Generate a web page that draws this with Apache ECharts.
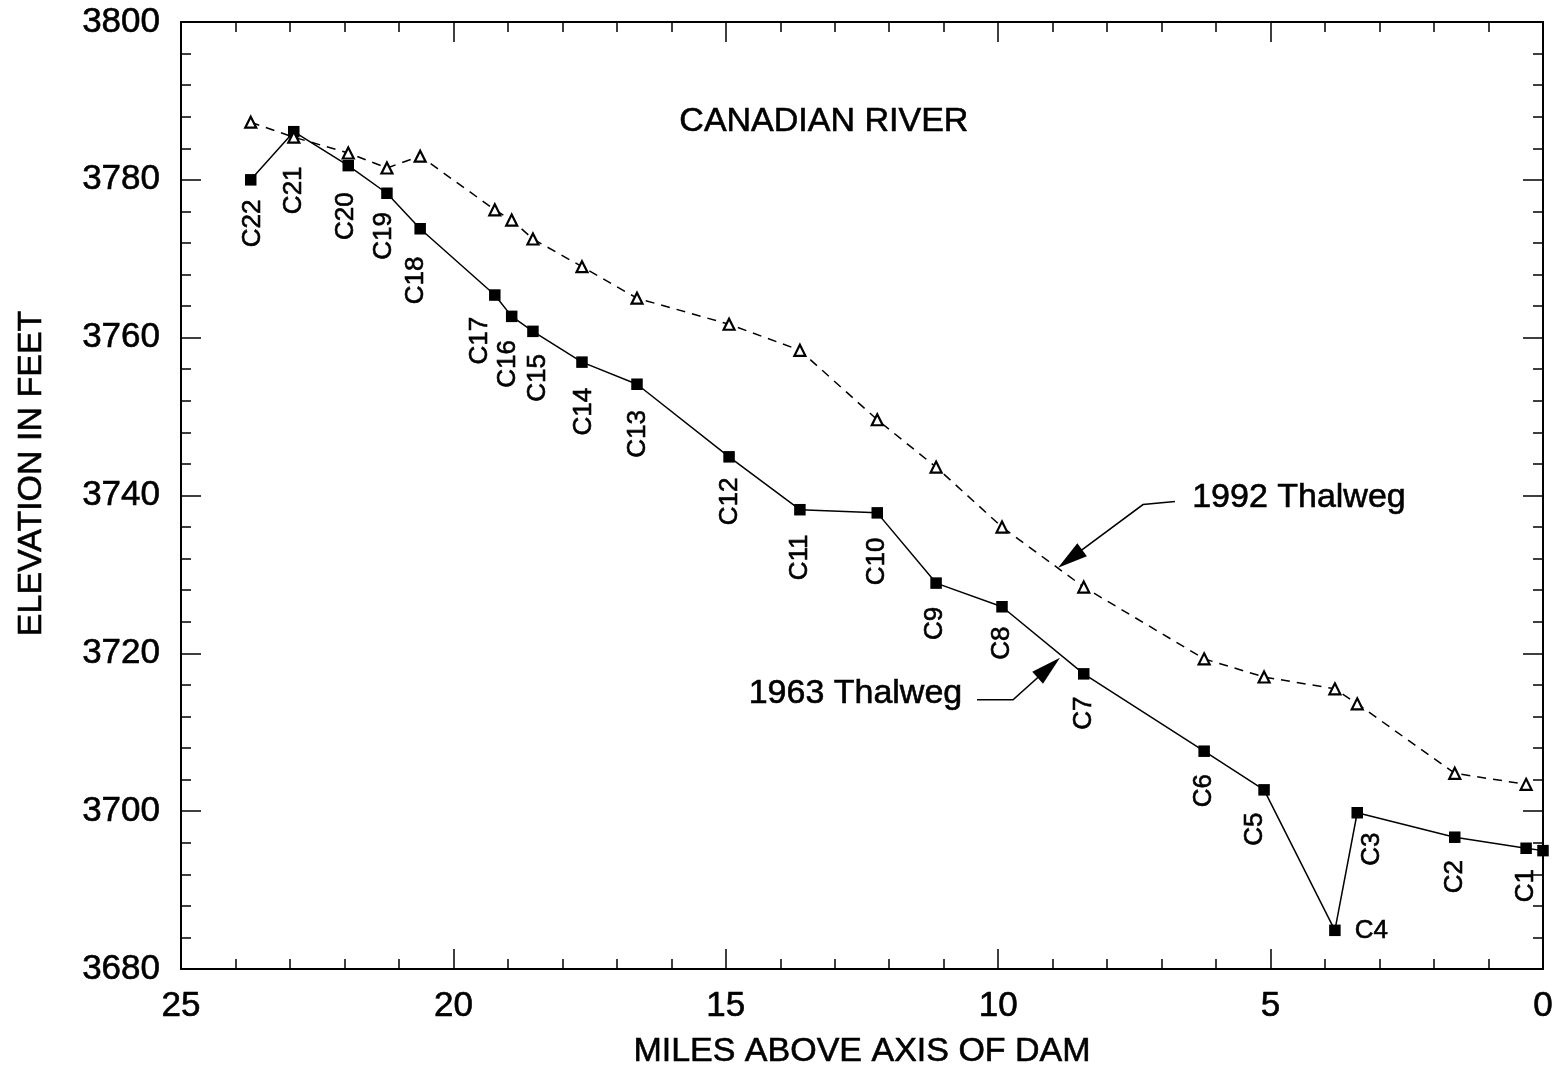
<!DOCTYPE html>
<html><head><meta charset="utf-8">
<script src="https://cdn.jsdelivr.net/npm/echarts@6/dist/echarts.min.js"></script>
<style>html,body{margin:0;padding:0;background:#fff}#c{width:1564px;height:1078px}</style>
</head><body><div id="c"></div>
<script>
// ---- data ----
const stations = ['C22','C21','C20','C19','C18','C17','C16','C15','C14','C13','C12','C11','C10','C9','C8','C7','C6','C5','C4','C3','C2','C1',''];
const miles = [23.72,22.93,21.93,21.22,20.61,19.24,18.93,18.54,17.64,16.63,14.94,13.64,12.22,11.14,9.93,8.43,6.22,5.12,3.82,3.41,1.62,0.31,0.0];
const elev1963 = [3780.0,3786.1,3781.8,3778.3,3773.8,3765.4,3762.7,3760.8,3756.9,3754.1,3744.9,3738.2,3737.8,3728.9,3725.9,3717.4,3707.6,3702.7,3684.9,3699.8,3696.7,3695.3,3695.0];
const miles1992 = [23.72,22.93,21.93,21.22,20.61,19.24,18.93,18.54,17.64,16.63,14.94,13.64,12.22,11.14,9.93,8.43,6.22,5.12,3.82,3.41,1.62,0.31];
const elev1992 = [3787.3,3785.4,3783.4,3781.5,3783.0,3776.2,3774.9,3772.5,3769.0,3765.0,3761.7,3758.4,3749.6,3743.6,3736.0,3728.4,3719.3,3717.0,3715.5,3713.6,3704.8,3703.4];
const xTickLabels = [25,20,15,10,5,0];
const yTickLabels = [3680,3700,3720,3740,3760,3780,3800];
const titleText = 'CANADIAN RIVER';
const xName = 'MILES ABOVE AXIS OF DAM';
const yName = 'ELEVATION IN FEET';
const name1963 = '1963 Thalweg';
const name1992 = '1992 Thalweg';

// ---- styling helpers (not data) ----
const FONT = "'Liberation Sans', Arial, Helvetica, sans-serif";
const INK = {textBorderColor:'#000', textBorderWidth:0.6};
// screen-space label nudges [dx, dy]
const labelShift = {C22:[2,-3],C21:[0,12],C20:[-2,4],C19:[-3,-4],C18:[-4,5],C17:[-15,-1],C16:[-4,1],C15:[5,0],C14:[2,3],C13:[1,3],C12:[1,-2],C11:[0,2],C10:[0,2],C9:[-1,1],C8:[0,-3],C5:[-9,0],C3:[15,-3],C1:[0,-2]};
// label is rotated 90deg, so its offset lives in the rotated frame: local = (-dy, dx)
const rotOffset = s => [-s[1], s[0]];

const d1963 = miles.map((m,i)=>{
  const nm = stations[i];
  const item = {value:[m, elev1963[i]], name:nm};
  if (!nm) { item.label = {show:false}; }
  else if (nm === 'C4') {
    item.label = {show:true, position:'right', rotate:0, align:'left', verticalAlign:'middle', distance:14, offset:[0,0]};
  } else if (labelShift[nm]) {
    item.label = {offset: rotOffset(labelShift[nm])};
  }
  return item;
});
const d1992 = miles1992.map((m,i)=>[m, elev1992[i]]);

const axisCommonX = {
  type:'value', min:0, max:25, interval:5, inverse:true,
  axisLine:{show:true, onZero:false, lineStyle:{color:'#000', width:2}},
  axisTick:{show:true, inside:true, length:20, lineStyle:{color:'#000', width:1.5}},
  minorTick:{show:true, splitNumber:5, length:10, lineStyle:{color:'#000', width:1.5}},
  splitLine:{show:false}
};
const axisCommonY = {
  type:'value', min:3680, max:3800, interval:20,
  axisLine:{show:true, onZero:false, lineStyle:{color:'#000', width:2}},
  axisTick:{show:true, inside:true, length:20, lineStyle:{color:'#000', width:1.5}},
  minorTick:{show:true, splitNumber:5, length:10, lineStyle:{color:'#000', width:1.5}},
  splitLine:{show:false}
};

const chart = echarts.init(document.getElementById('c'), null, {renderer:'canvas'});
const option = {
  backgroundColor:'#fff',
  animation:false,
  grid:{left:181, right:21, top:22, bottom:109, containLabel:false, outerBoundsMode:'none'},
  xAxis:[
    Object.assign({}, axisCommonX, {position:'bottom',
      name:xName, nameLocation:'middle', nameGap:66,
      nameTextStyle:Object.assign({fontFamily:FONT, fontSize:34, color:'#000'}, INK),
      axisLabel:Object.assign({show:true, margin:20, fontFamily:FONT, fontSize:35, color:'#000',
        formatter:v=> xTickLabels.includes(v) ? String(v) : ''}, INK)}),
    Object.assign({}, axisCommonX, {position:'top', axisLabel:{show:false}})
  ],
  yAxis:[
    Object.assign({}, axisCommonY, {position:'left',
      axisLabel:Object.assign({show:true, margin:21, fontFamily:FONT, fontSize:35, color:'#000',
        formatter:v=> yTickLabels.includes(v) ? String(v) : ''}, INK)}),
    Object.assign({}, axisCommonY, {position:'right', axisLabel:{show:false}})
  ],
  series:[
    {
      name:name1963, type:'line', data:d1963, xAxisIndex:0, yAxisIndex:0,
      symbol:'rect', symbolSize:11.5, showAllSymbol:true,
      lineStyle:{color:'#000', width:1.5},
      itemStyle:{color:'#000'},
      clip:false, z:2,
      label:Object.assign({show:true, position:'bottom', distance:17, rotate:90, align:'right', verticalAlign:'middle',
        fontFamily:FONT, fontSize:26, color:'#000', formatter:p=>p.name}, INK)
    },
    {
      name:name1992, type:'line', data:d1992, xAxisIndex:0, yAxisIndex:0,
      symbol:'triangle', symbolSize:11, showAllSymbol:true,
      lineStyle:{color:'#000', width:1.5, type:[9,7]},
      itemStyle:{color:'#fff', borderColor:'#000', borderWidth:2.2},
      clip:false, z:3
    }
  ]
};
chart.setOption(option);

// ---- annotations (positioned in data coordinates) ----
function px(x,y){ return chart.convertToPixel({xAxisIndex:0, yAxisIndex:0}, [x,y]); }
function arrow(pts){
  const p = pts.map(q=>px(q[0],q[1]));
  const tip = p[p.length-1], prev = p[p.length-2];
  const ang = Math.atan2(tip[1]-prev[1], tip[0]-prev[0]);
  const L = 30, W = 8;
  const bx = tip[0]-L*Math.cos(ang), by = tip[1]-L*Math.sin(ang);
  const nx = -Math.sin(ang), ny = Math.cos(ang);
  const lineEnd = [tip[0]-(L-4)*Math.cos(ang), tip[1]-(L-4)*Math.sin(ang)];
  return [
    {type:'polyline', shape:{points:p.slice(0,-1).concat([lineEnd])}, style:{stroke:'#000', lineWidth:1.6, fill:null}},
    {type:'polygon', shape:{points:[tip,[bx+nx*W,by+ny*W],[bx-nx*W,by-ny*W]]}, style:{fill:'#000'}}
  ];
}
const t1992 = px(6.44, 3739.7);
const t1963 = px(10.66, 3714.9);
const titlePos = px(13.2, 3787.4);
const yNamePos = [32, px(0,3742.8)[1]];
const ink = {stroke:'#000', lineWidth:0.6};
const g = [
  {type:'text', x:titlePos[0], y:titlePos[1], style:Object.assign({text:titleText, font:`34px ${FONT}`, fill:'#000', align:'center', verticalAlign:'middle'}, ink)},
  {type:'text', x:yNamePos[0], y:yNamePos[1], rotation:Math.PI/2, style:Object.assign({text:yName, font:`34px ${FONT}`, fill:'#000', align:'center', verticalAlign:'middle'}, ink)},
  {type:'text', x:t1992[0], y:t1992[1], style:Object.assign({text:name1992, font:`34px ${FONT}`, fill:'#000', align:'left', verticalAlign:'middle'}, ink)},
  {type:'text', x:t1963[0], y:t1963[1], style:Object.assign({text:name1963, font:`34px ${FONT}`, fill:'#000', align:'right', verticalAlign:'middle'}, ink)}
].concat(arrow([[6.755,3739.24],[7.342,3738.86],[8.902,3730.86]]))
 .concat(arrow([[10.389,3714.12],[9.728,3714.12],[8.866,3719.45]]));
chart.setOption({graphic:{elements:g}});
</script>
</body></html>
